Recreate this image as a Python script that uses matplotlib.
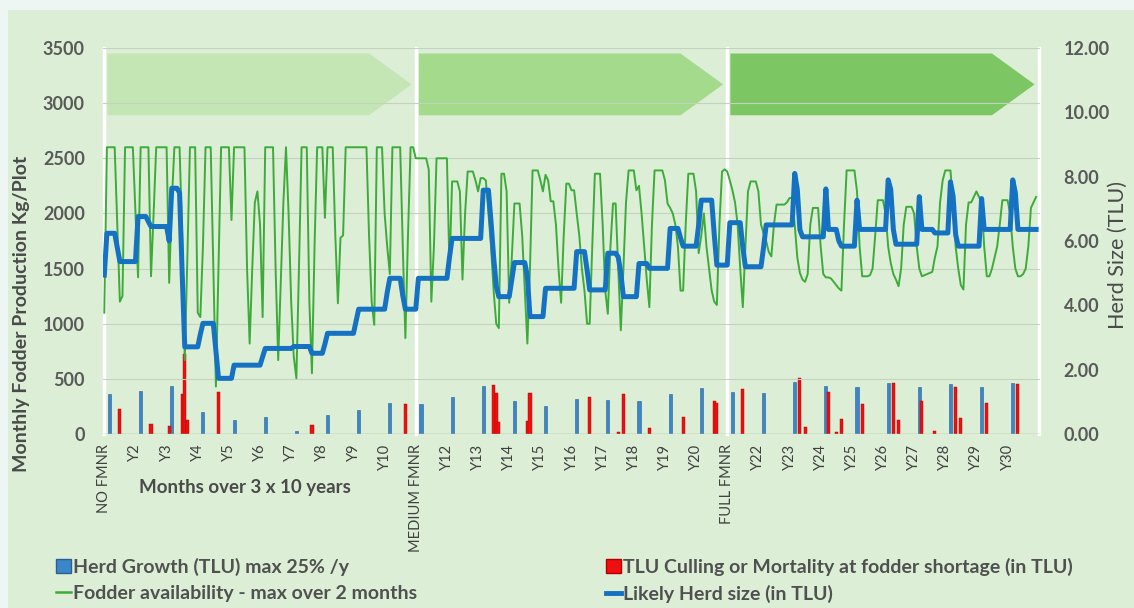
import matplotlib
matplotlib.use("Agg")
import matplotlib.pyplot as plt
from matplotlib.patches import Polygon, Rectangle, Patch
from matplotlib.lines import Line2D
import numpy as np

plt.rcParams["font.family"] = ["Lato", "DejaVu Sans"]

# Monthly fodder availability (kg/plot), one row per year, 3 periods of 10 years
fodder_no_fmnr = [
    1100, 2600, 2600, 2600, 2600, 1900, 1200, 1250, 2600, 2600, 2600, 2600,
    2000, 1420, 2600, 2600, 2600, 2600, 1430, 2000, 2600, 2600, 2600, 2600,
    2600, 1370, 2100, 2600, 2600, 2600, 1800, 670, 1600, 2600, 2600, 2600,
    1100, 1060, 1700, 2600, 2600, 2600, 1500, 430, 1500, 2600, 2600, 2600,
    2600, 1940, 2600, 2600, 2600, 2600, 2600, 1500, 820, 1500, 2100, 2200,
    1900, 1060, 2600, 2600, 2600, 2600, 1500, 670, 1400, 2100, 2600, 2000,
    1200, 700, 505, 1500, 2600, 2600, 2600, 1200, 550, 1700, 2600, 2600,
    2600, 1960, 2600, 2600, 2600, 1800, 1185, 1780, 1800, 2600, 2600, 2600,
    2600, 2600, 2600, 2600, 2600, 2600, 1800, 1200, 990, 2600, 2600, 2600,
    2000, 1700, 1450, 2600, 2600, 2600, 2600, 1700, 870, 1800, 2600, 2600,
]
fodder_medium_fmnr = [
    2500, 2500, 2500, 2500, 2500, 2400, 1200, 1700, 2500, 2500, 2500, 2500,
    2500, 1500, 2290, 2290, 2290, 2200, 1400, 2000, 2380, 2380, 2380, 2300,
    2200, 2320, 2320, 2300, 2000, 1700, 1300, 1000, 960, 2360, 2360, 2200,
    1190, 1600, 2090, 2090, 2090, 1800, 1300, 820, 1500, 2390, 2390, 2390,
    2300, 2200, 2350, 2300, 2110, 2110, 1900, 1500, 1190, 1800, 2270, 2270,
    2210, 2210, 2000, 1800, 1500, 1300, 1000, 1000, 1700, 2360, 2360, 2360,
    1900, 1300, 1090, 1700, 2090, 2090, 1500, 940, 1500, 2100, 2390, 2390,
    2390, 2210, 2250, 2000, 1700, 1400, 1150, 1900, 2390, 2390, 2390, 2390,
    2300, 2090, 2050, 2000, 1900, 1700, 1300, 1300, 1900, 2360, 2360, 2360,
    2200, 1640, 1800, 2000, 1700, 1500, 1300, 1200, 1170, 1900, 2380, 2400,
]
fodder_full_fmnr = [
    2380, 2300, 2210, 2100, 1900, 1500, 1150, 1700, 2200, 2290, 2290, 2290,
    2200, 1900, 1820, 1750, 1650, 1610, 1900, 2080, 2080, 2080, 2080, 2100,
    2140, 2140, 1900, 1600, 1460, 1400, 1380, 1450, 1900, 2050, 2050, 2050,
    1700, 1450, 1420, 1420, 1410, 1380, 1350, 1320, 1300, 1900, 2390, 2390,
    2390, 2390, 2200, 1700, 1430, 1430, 1430, 1440, 1500, 1800, 2120, 2120,
    2120, 2000, 1700, 1550, 1450, 1400, 1340, 1500, 1900, 2060, 2060, 2060,
    2000, 1700, 1500, 1430, 1440, 1450, 1460, 1470, 1600, 1700, 2100, 2300,
    2390, 2390, 2390, 2100, 1700, 1500, 1350, 1310, 1900, 2100, 2100, 2150,
    2200, 2150, 2100, 1700, 1430, 1430, 1500, 1600, 1700, 1900, 2120, 2120,
    2120, 2000, 1700, 1500, 1430, 1430, 1450, 1500, 1700, 2050, 2100, 2150,
]

# Likely herd size (TLU), monthly
herd_no_fmnr = [
    4.94, 6.24, 6.24, 6.24, 6.24, 5.8, 5.36, 5.36, 5.36, 5.36, 5.36, 5.36,
    5.36, 6.76, 6.76, 6.76, 6.76, 6.6, 6.45, 6.45, 6.45, 6.45, 6.45, 6.45,
    6.45, 6.0, 7.64, 7.64, 7.64, 7.5, 5.0, 2.71, 2.71, 2.71, 2.71, 2.71,
    2.71, 3.1, 3.44, 3.44, 3.44, 3.44, 3.44, 2.6, 1.73, 1.73, 1.73, 1.73,
    1.73, 1.73, 2.14, 2.14, 2.14, 2.14, 2.14, 2.14, 2.14, 2.14, 2.14, 2.14,
    2.14, 2.4, 2.66, 2.66, 2.66, 2.66, 2.66, 2.66, 2.66, 2.66, 2.66, 2.66,
    2.66, 2.72, 2.72, 2.72, 2.72, 2.72, 2.72, 2.72, 2.51, 2.51, 2.51, 2.51,
    2.51, 2.8, 3.13, 3.13, 3.13, 3.13, 3.13, 3.13, 3.13, 3.13, 3.13, 3.13,
    3.13, 3.5, 3.88, 3.88, 3.88, 3.88, 3.88, 3.88, 3.88, 3.88, 3.88, 3.88,
    3.88, 4.4, 4.84, 4.84, 4.84, 4.84, 4.84, 4.3, 3.88, 3.88, 3.88, 3.88,
]
herd_medium_fmnr = [
    3.88, 4.84, 4.84, 4.84, 4.84, 4.84, 4.84, 4.84, 4.84, 4.84, 4.84, 4.84,
    4.84, 5.5, 6.08, 6.08, 6.08, 6.08, 6.08, 6.08, 6.08, 6.08, 6.08, 6.08,
    6.08, 6.08, 7.58, 7.58, 7.58, 6.6, 5.5, 4.6, 4.27, 4.27, 4.27, 4.27,
    4.27, 4.8, 5.33, 5.33, 5.33, 5.33, 5.33, 4.9, 3.65, 3.65, 3.65, 3.65,
    3.65, 3.65, 4.53, 4.53, 4.53, 4.53, 4.53, 4.53, 4.53, 4.53, 4.53, 4.53,
    4.53, 4.53, 5.67, 5.67, 5.67, 5.67, 5.1, 4.48, 4.48, 4.48, 4.48, 4.48,
    4.48, 4.48, 5.62, 5.62, 5.62, 5.62, 5.5, 5.0, 4.27, 4.27, 4.27, 4.27,
    4.27, 4.27, 5.3, 5.3, 5.3, 5.3, 5.15, 5.15, 5.15, 5.15, 5.15, 5.15,
    5.15, 5.15, 6.39, 6.39, 6.39, 6.39, 6.1, 5.84, 5.84, 5.84, 5.84, 5.84,
    5.84, 6.5, 7.27, 7.27, 7.27, 7.27, 7.27, 6.2, 5.25, 5.25, 5.25, 5.25,
]
herd_full_fmnr = [
    5.25, 6.57, 6.57, 6.57, 6.57, 6.57, 5.8, 5.2, 5.2, 5.2, 5.2, 5.2,
    5.2, 5.2, 5.8, 6.5, 6.5, 6.5, 6.5, 6.5, 6.5, 6.5, 6.5, 6.5,
    6.5, 6.5, 8.1, 7.6, 6.35, 6.13, 6.13, 6.13, 6.13, 6.13, 6.13, 6.13,
    6.13, 6.13, 7.62, 6.36, 6.36, 6.36, 6.36, 6.0, 5.84, 5.84, 5.84, 5.84,
    5.84, 5.84, 7.27, 6.36, 6.36, 6.36, 6.36, 6.36, 6.36, 6.36, 6.36, 6.36,
    6.36, 6.36, 7.9, 7.6, 6.36, 5.9, 5.9, 5.9, 5.9, 5.9, 5.9, 5.9,
    5.9, 5.9, 7.38, 6.36, 6.36, 6.36, 6.36, 6.36, 6.25, 6.25, 6.25, 6.25,
    6.25, 6.25, 7.84, 7.4, 6.2, 5.84, 5.84, 5.84, 5.84, 5.84, 5.84, 5.84,
    5.84, 5.84, 7.32, 6.36, 6.36, 6.36, 6.36, 6.36, 6.36, 6.36, 6.36, 6.36,
    6.36, 6.36, 7.9, 7.5, 6.36, 6.36, 6.36, 6.36, 6.36, 6.36, 6.36, 6.36,
]

# Herd growth bars (TLU), once a year
growth_months = [2, 14, 26, 38, 50, 62, 74, 86, 98, 110,
                 122, 134, 146, 158, 170, 182, 194, 206, 218, 230,
                 242, 254, 266, 278, 290, 302, 314, 326, 338, 350]
growth_tlu = [1.24, 1.35, 1.5, 0.67, 0.44, 0.54, 0.1, 0.6, 0.75, 0.95,
              0.93, 1.16, 1.48, 1.04, 0.88, 1.1, 1.06, 1.04, 1.24, 1.43,
              1.3, 1.28, 1.62, 1.5, 1.45, 1.57, 1.47, 1.55, 1.47, 1.57]

# Culling / mortality bars (TLU)
cull_months = [6, 18, 25, 30, 31, 32, 44, 80, 116,
               150, 151, 152, 163, 164, 187, 198, 200, 210, 223, 235, 236,
               246, 268, 270, 279, 282, 284, 292, 304, 306, 315, 320, 328, 330, 340, 352]
cull_tlu = [0.78, 0.31, 0.26, 1.24, 2.5, 0.45, 1.3, 0.29, 0.93,
            1.52, 1.26, 0.38, 0.41, 1.26, 1.14, 0.05, 1.24, 0.19, 0.52, 1.04, 0.95,
            1.39, 1.73, 0.23, 1.3, 0.07, 0.46, 0.92, 1.57, 0.44, 1.04, 0.09, 1.47, 0.49, 0.95, 1.54]

tick_labels = ["NO FMNR", "Y2", "Y3", "Y4", "Y5", "Y6", "Y7", "Y8", "Y9", "Y10",
               "MEDIUM FMNR", "Y12", "Y13", "Y14", "Y15", "Y16", "Y17", "Y18", "Y19", "Y20",
               "FULL FMNR", "Y22", "Y23", "Y24", "Y25", "Y26", "Y27", "Y28", "Y29", "Y30"]

fodder = fodder_no_fmnr + fodder_medium_fmnr + fodder_full_fmnr
herd = herd_no_fmnr + herd_medium_fmnr + herd_full_fmnr
months = np.arange(len(fodder))

W, H = 1134, 608
fig = plt.figure(figsize=(W / 100, H / 100), dpi=100)
fig.patch.set_facecolor("#edf6f2")
fig.add_artist(Rectangle((8 / W, 0), 1 - 8 / W, 1 - 10 / H, transform=fig.transFigure,
                         facecolor="#dceed6", edgecolor="none", zorder=0))

pos = [103 / W, 1 - 434 / H, 937 / W, 386 / H]
axb = fig.add_axes(pos)           # bars (right scale)
ax = axb.twinx()                  # fodder (left scale)
axr = axb.twinx()                 # herd size (right scale)
ax.yaxis.set_ticks_position("left")
ax.yaxis.set_label_position("left")
for a, z in ((axb, 1), (ax, 2), (axr, 3)):
    a.set_zorder(z)
    a.patch.set_visible(False)
    for s in a.spines.values():
        s.set_visible(False)
    a.set_xlim(-0.5, 360.5)

# background arrows and period separators
arrow_cols = ["#c4e6b4", "#a3da8b", "#7cc763"]
for d in range(3):
    x0 = d * 120
    pts = [(x0 + 1.2, 2890), (x0 + 102, 2890), (x0 + 118.4, 3170),
           (x0 + 102, 3450), (x0 + 1.2, 3450)]
    ax.add_patch(Polygon(pts, closed=True, facecolor=arrow_cols[d], edgecolor="none", zorder=0))
for xv in [0, 120, 240, 360]:
    ax.axvline(xv, color="white", lw=2.5, zorder=0.5, clip_on=False)

ax.set_ylim(0, 3500)
ax.set_yticks(range(0, 3501, 500))
ax.grid(axis="y", color="#c3d3bf", lw=0.8)
ax.set_axisbelow(True)
ax.plot(months, fodder, color="#3dab3a", lw=1.4, zorder=3)
ax.axhline(0, color="#a9b4a6", lw=1.0, zorder=2)

axb.set_ylim(0, 12)
axb.bar(growth_months, growth_tlu, width=1.2, color="#3a86c8", edgecolor="#2b5f92", lw=0.4)
axb.bar(cull_months, cull_tlu, width=1.2, color="#ee1010", edgecolor="#b00000", lw=0.3)
axb.set_yticks([])
axb.tick_params(left=False, labelleft=False)

axr.set_ylim(0, 12)
axr.set_yticks(range(0, 13, 2))
axr.set_yticklabels([f"{v:.2f}" for v in range(0, 13, 2)])
axr.plot(months, herd, color="#1572c2", lw=3.6, solid_joinstyle="round", zorder=4)

axb.set_xticks(range(0, 360, 12))
axb.set_xticklabels(tick_labels, rotation=90, fontsize=10.5, color="#404040", va="top", ha="center")
axb.tick_params(axis="x", length=0, pad=7)
ax.tick_params(axis="x", bottom=False, labelbottom=False)
axr.tick_params(axis="x", bottom=False, labelbottom=False)

ax.tick_params(axis="y", length=0, pad=13, labelsize=13, labelcolor="#595959")
axr.tick_params(axis="y", length=0, pad=17, labelsize=13, labelcolor="#595959")
for lbl in ax.get_yticklabels() + axr.get_yticklabels():
    lbl.set_fontweight("bold")

fig.text(22 / W, 1 - 314 / H, "Monthly Fodder Production Kg/Plot", rotation=90,
         ha="center", va="center", fontsize=14, fontweight="bold", color="#4a4a4a")
fig.text(1118 / W, 1 - 255 / H, "Herd Size (TLU)", rotation=90,
         ha="center", va="center", fontsize=15.5, color="#4a4a4a")
fig.text(245 / W, 1 - 488 / H, "Months over 3 x 10 years",
         ha="center", va="center", fontsize=13.5, fontweight="bold", color="#4a4a4a")

# legend in two fixed columns
leg_kw = dict(frameon=False, handlelength=0.8, handleheight=0.8,
              handletextpad=0.1, labelspacing=0.45, borderpad=0, labelcolor="#505050",
              prop={"weight": "bold", "size": 14})
h1 = [Patch(facecolor="#3a86c8", edgecolor="#2b5f92"), Line2D([], [], color="#3dab3a", lw=1.8)]
h2 = [Patch(facecolor="#ee1010", edgecolor="#b00000"), Line2D([], [], color="#1572c2", lw=3.5)]
fig.legend(h1, ["Herd Growth (TLU) max 25% /y", "Fodder availability - max over 2 months"],
           loc="upper left", bbox_to_anchor=(46 / W, 1 - 548 / H), **leg_kw)
fig.legend(h2, ["TLU Culling or Mortality at fodder shortage (in TLU)", "Likely Herd size (in TLU)"],
           loc="upper left", bbox_to_anchor=(596 / W, 1 - 548 / H), **leg_kw)

fig.savefig("out.png", dpi=100, facecolor=fig.get_facecolor())
